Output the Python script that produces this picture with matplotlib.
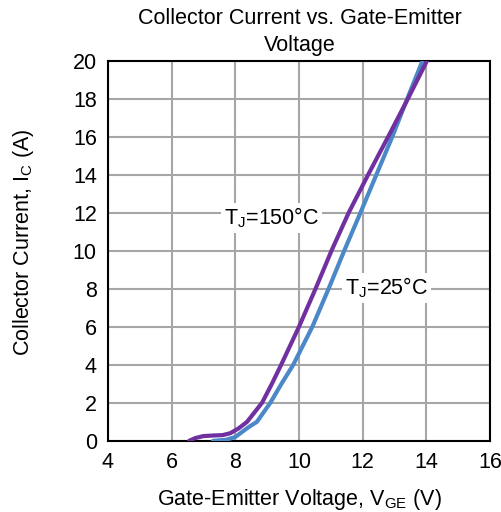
import matplotlib
matplotlib.use("Agg")
from matplotlib import pyplot as plt

plt.rcParams["font.family"] = ["Liberation Sans", "DejaVu Sans"]

# Tj = 25 C curve
vge_25 = [7.3, 7.7, 8.0, 8.16, 8.4, 8.68, 9.1, 9.45, 9.82, 10.12, 10.42, 10.93, 11.42, 11.93, 12.43, 12.93, 13.4, 13.88]
ic_25 = [0.0, 0.05, 0.2, 0.4, 0.7, 1.0, 2.0, 3.0, 4.0, 5.0, 6.0, 8.0, 10.0, 12.0, 14.0, 16.0, 18.0, 20.0]

# Tj = 150 C curve
vge_150 = [6.55, 6.75, 7.0, 7.3, 7.6, 7.84, 8.1, 8.37, 8.84, 9.15, 9.44, 9.72, 10.0, 10.52, 11.02, 11.56, 12.17, 12.8, 13.42, 14.02]
ic_150 = [0.0, 0.15, 0.25, 0.28, 0.3, 0.4, 0.65, 1.0, 2.0, 3.0, 4.0, 5.0, 6.0, 8.0, 10.0, 12.0, 14.0, 16.0, 18.0, 20.0]

x_ticks = [4, 6, 8, 10, 12, 14, 16]
y_ticks = [0, 2, 4, 6, 8, 10, 12, 14, 16, 18, 20]

fig = plt.figure(figsize=(5.02, 5.12), dpi=100)
ax = fig.add_axes([0.215, 0.139, 0.761, 0.742])

ax.plot(vge_25, ic_25, color="#4A88C8", lw=3, solid_capstyle="round", solid_joinstyle="round", zorder=3)
ax.plot(vge_150, ic_150, color="#7030A0", lw=3, solid_capstyle="round", solid_joinstyle="round", zorder=3)

ax.set_xlim(4, 16)
ax.set_ylim(0, 20)
ax.set_xticks(x_ticks)
ax.set_yticks(y_ticks)
ax.grid(True, color="#A6A6A6", lw=1.5)
ax.set_axisbelow(True)
ax.tick_params(length=0, labelsize=15.5, pad=8)
for sp in ax.spines.values():
    sp.set_linewidth(1.5)
    sp.set_color("black")

box = dict(facecolor="white", edgecolor="none", pad=2)
ax.text(9.15, 11.74, "T$_\\mathregular{J}$=150°C", fontsize=15.5, ha="center", va="center", bbox=box, zorder=4)
ax.text(12.75, 8.05, "T$_\\mathregular{J}$=25°C", fontsize=15.5, ha="center", va="center", bbox=box, zorder=4)

# axis labels placed by pixel position
fig.text(299 / 502, 1 - 499 / 512, "Gate-Emitter Voltage, V$_\\mathregular{GE}$ (V)", fontsize=15.5, ha="center", va="center")
fig.text(24 / 502, 1 - 242 / 512, "Collector Current, I$_\\mathregular{C}$ (A)", fontsize=15.5, ha="center", va="center", rotation=90)

fig.text(300 / 502, 1 - 19 / 512, "Collector Current vs. Gate-Emitter", fontsize=15.5, ha="center", va="center")
fig.text(300 / 502, 1 - 46 / 512, "Voltage", fontsize=15.5, ha="center", va="center")

plt.savefig("out.png")
